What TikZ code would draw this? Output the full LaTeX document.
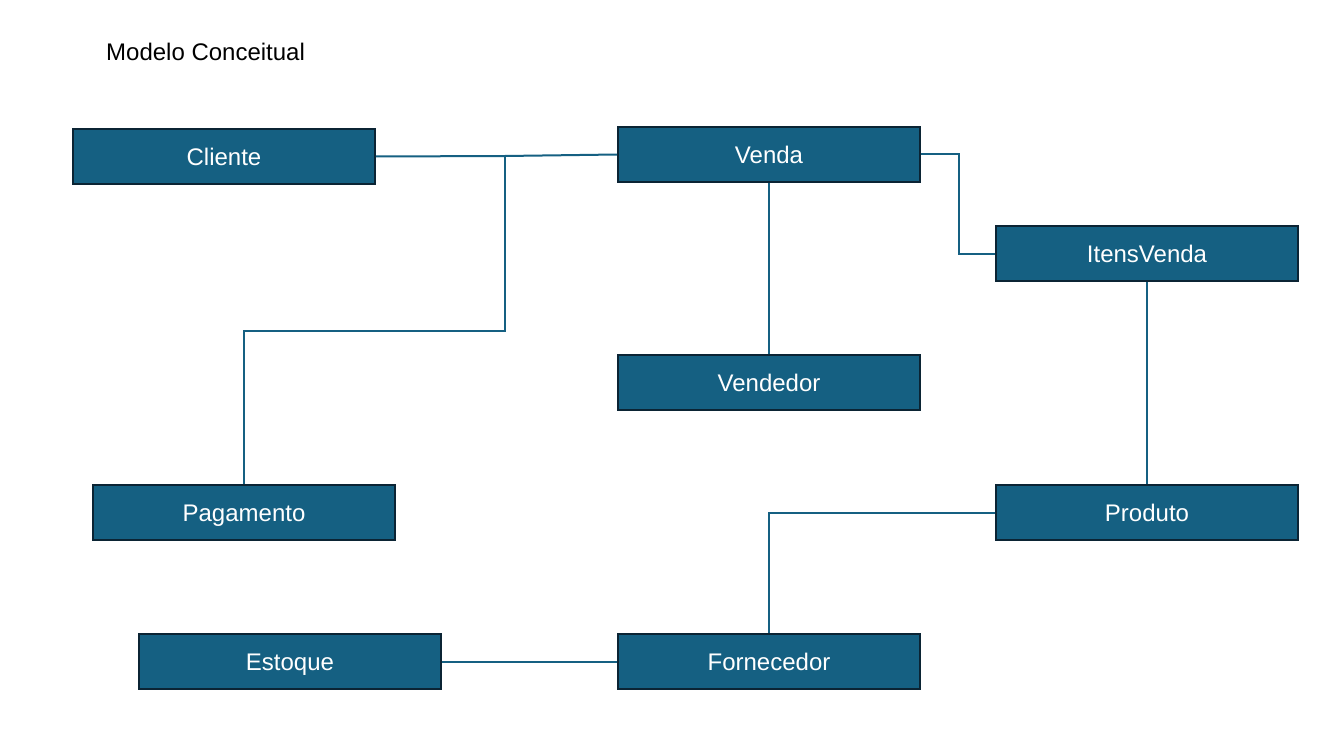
\documentclass[tikz,border=0pt]{standalone}
\usepackage{fontspec}
\setmainfont{Liberation Sans}
\definecolor{boxfill}{HTML}{156082}
\definecolor{boxline}{HTML}{0B2434}
\definecolor{conn}{HTML}{156082}
\begin{document}
\begin{tikzpicture}[x=1pt,y=-1pt,
  entity/.style={draw=boxline,line width=1.8pt,fill=boxfill,text=white,
    minimum width=302pt,minimum height=55pt,inner sep=0pt,
    text height=21.5pt,text depth=3.5pt,
    font=\fontsize{24}{28}\selectfont},
  link/.style={draw=conn,line width=2pt}]
\useasboundingbox[fill=white] (0,0) rectangle (1318,741);
\node[anchor=west,font=\fontsize{24}{28}\selectfont,inner sep=0pt] (title) at (106,52) {Modelo Conceitual};
\node[entity] (cliente) at (224,156.5) {Cliente};
\node[entity] (venda) at (769,154.5) {Venda};
\node[entity] (itens) at (1147,253.5) {ItensVenda};
\node[entity] (vendedor) at (769,382.5) {Vendedor};
\node[entity] (pagamento) at (244,512.5) {Pagamento};
\node[entity] (produto) at (1147,512.5) {Produto};
\node[entity] (estoque) at (290,661.5) {Estoque};
\node[entity] (fornecedor) at (769,661.5) {Fornecedor};
\coordinate (j1) at (505,156);
\draw[link] (cliente.east) -- (j1) -- (venda.west);
\draw[link] (j1) -- (505,331) -- (244,331) -- (pagamento.north);
\draw[link] (venda.east) -- (959,154.5) -- (959,253.5) -- (itens.west);
\draw[link] (venda.south) -- (vendedor.north);
\draw[link] (itens.south) -- (produto.north);
\draw[link] (produto.west) -- (769,512.5) -- (fornecedor.north);
\draw[link] (estoque.east) -- (fornecedor.west);
\end{tikzpicture}
\end{document}
